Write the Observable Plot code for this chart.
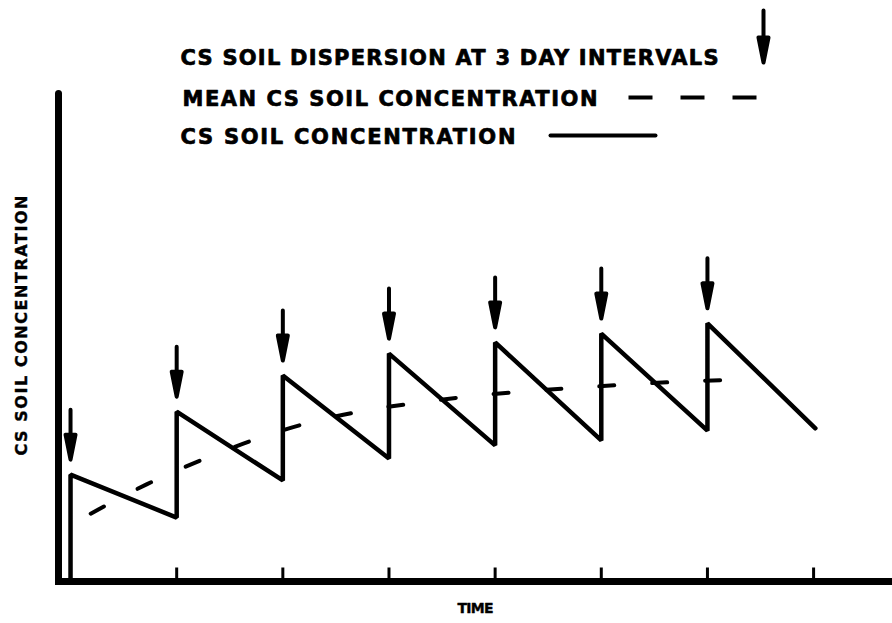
<!DOCTYPE html>
<html><head><meta charset="utf-8">
<script src="https://cdn.jsdelivr.net/npm/d3@7"></script>
<script src="https://cdn.jsdelivr.net/npm/@observablehq/plot@0.6"></script>
<style>html,body{margin:0;padding:0;background:#fff;} #chart svg{display:block;}</style>
</head><body><div id="chart"></div>
<script>
const dispersionDays = [0, 3, 6, 9, 12, 15, 18];
const peakConc = [2.19, 3.48, 4.22, 4.67, 4.90, 5.08, 5.29];
const troughDays = [3, 6, 9, 12, 15, 18, 21.05];
const troughConc = [1.31, 2.07, 2.52, 2.79, 2.89, 3.09, 3.14];
const meanDays = [0.57, 2.15, 3.67, 5.29, 6.67, 8.31, 9.67, 11.25, 12.75, 14.53, 15.83, 17.38, 19.08];
const meanConc = [1.39, 1.99, 2.48, 2.93, 3.24, 3.50, 3.65, 3.79, 3.89, 3.98, 4.04, 4.10, 4.14];
const timeTicks = [0, 3, 6, 9, 12, 15, 18, 21];
const legendLabels = ["CS SOIL DISPERSION AT 3 DAY INTERVALS", "MEAN CS SOIL CONCENTRATION", "CS SOIL CONCENTRATION"];
const xLabel = "TIME";
const yLabel = "CS SOIL CONCENTRATION";

const saw = [{t: dispersionDays[0], c: 0}];
dispersionDays.forEach((d, i) => {
  saw.push({t: d, c: peakConc[i]});
  saw.push({t: troughDays[i], c: troughConc[i]});
});
const mean = meanDays.map((t, i) => ({t, c: meanConc[i]}));
const peaks = dispersionDays.map((t, i) => ({t, c: peakConc[i]}));

const arrowShape = {draw(ctx, l) {
  const h = 25, w = 5;
  ctx.moveTo(0, 0); ctx.lineTo(0, -l + h);
  ctx.moveTo(-w, -l + h); ctx.lineTo(0, -l); ctx.lineTo(w, -l + h); ctx.closePath();
}};
const lineShape = {draw(ctx, l) { ctx.moveTo(0, 0); ctx.lineTo(0, -l); }};

const txt = {fontWeight: "bold", fill: "black", stroke: "black"};

const svg = Plot.plot({
  width: 892, height: 623,
  marginLeft: 58, marginRight: 0, marginTop: 93, marginBottom: 42,
  x: {domain: [-0.34, 23.23], axis: null},
  y: {domain: [0, 10], axis: null},
  style: {fontFamily: "'DejaVu Sans', sans-serif", background: "white", color: "black"},
  marks: [
    Plot.line(mean, {x: "t", y: "c", curve: "monotone-x", strokeWidth: 4, strokeDasharray: "15,38", strokeLinecap: "round"}),
    Plot.line(saw, {x: "t", y: "c", strokeWidth: 4.5, strokeLinejoin: "miter"}),
    Plot.vector(peaks, {x: "t", y: "c", dy: -15, length: 50, rotate: 180, anchor: "end", shape: arrowShape, fill: "black", stroke: "black", strokeWidth: 4}),
    Plot.vector(timeTicks, {x: d => d, frameAnchor: "bottom", length: 14, anchor: "start", shape: lineShape, strokeWidth: 3, strokeLinecap: "butt"}),
    Plot.frame({anchor: "left", strokeWidth: 7, strokeLinecap: "round"}),
    Plot.frame({anchor: "bottom", strokeWidth: 7, strokeLinecap: "square"}),
    // legend
    Plot.text([legendLabels[0]], {...txt, text: d => d, frameAnchor: "top-left", dx: 122, dy: -43, textAnchor: "start", fontSize: 21, strokeWidth: 0.7}),
    Plot.text([legendLabels[1]], {...txt, text: d => d, frameAnchor: "top-left", dx: 124, dy: -2.5, textAnchor: "start", fontSize: 21, strokeWidth: 0.7}),
    Plot.text([legendLabels[2]], {...txt, text: d => d, frameAnchor: "top-left", dx: 122, dy: 36, textAnchor: "start", fontSize: 21, strokeWidth: 0.7}),
    Plot.vector([0], {frameAnchor: "top-left", dx: 705, dy: -31, length: 52, rotate: 180, anchor: "end", shape: arrowShape, fill: "black", stroke: "black", strokeWidth: 4}),
    Plot.vector([0], {frameAnchor: "top-left", dx: 570, dy: 4, length: 134, rotate: 90, anchor: "start", shape: lineShape, strokeWidth: 4, strokeDasharray: "24,28", strokeLinecap: "butt"}),
    Plot.vector([0], {frameAnchor: "top-left", dx: 492, dy: 42, length: 105, rotate: 90, anchor: "start", shape: lineShape, strokeWidth: 4}),
    // axis labels
    Plot.text([yLabel], {...txt, text: d => d, frameAnchor: "left", textAnchor: "middle", lineAnchor: "middle", rotate: -90, dx: -37, dy: -12, fontSize: 16, strokeWidth: 0.4}),
    Plot.text([xLabel], {...txt, text: d => d, frameAnchor: "bottom", textAnchor: "middle", lineAnchor: "middle", dy: 27, fontSize: 14, strokeWidth: 0.4})
  ]
});

const lengths = new Map([[legendLabels[0], 538], [legendLabels[1], 415], [legendLabels[2], 335], [xLabel, 36]]);
svg.querySelectorAll("text").forEach(t => {
  const s = t.textContent;
  const rotated = (t.getAttribute("transform") || "").includes("rotate");
  const len = rotated ? 260 : lengths.get(s);
  if (len) { t.setAttribute("textLength", len); t.setAttribute("lengthAdjust", "spacing"); }
});
document.getElementById("chart").appendChild(svg);
</script>
</body></html>
